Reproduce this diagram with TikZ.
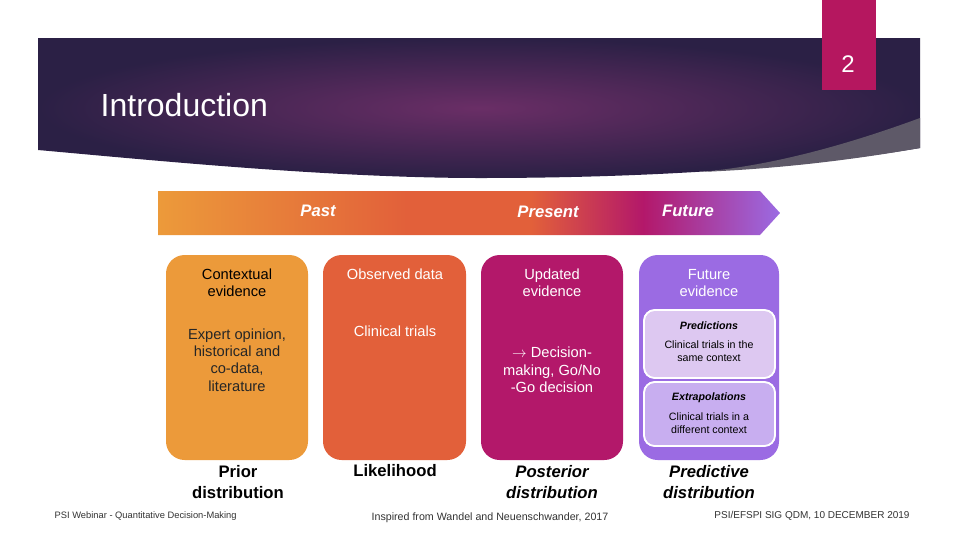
\documentclass[tikz,border=0pt]{standalone}
\usepackage{fontspec}
\setmainfont{Liberation Sans}
\usetikzlibrary{shapes.geometric}
\definecolor{cA}{HTML}{EC9A3A}
\definecolor{cB}{HTML}{E2603A}
\definecolor{cC}{HTML}{B3186A}
\definecolor{cD}{HTML}{9B6BE3}
\definecolor{pinkbox}{HTML}{B5175F}
\definecolor{darkp}{HTML}{2B2045}
\definecolor{midp}{HTML}{6A2E66}
\pgfdeclarehorizontalshading{timebar}{100bp}{color(0bp)=(cA);color(25bp)=(cA);color(45bp)=(cB);color(55bp)=(cB);color(64bp)=(cC);color(75bp)=(cD);color(100bp)=(cD)}
\begin{document}
\begin{tikzpicture}[x=0.75pt,y=-0.75pt,
  col/.style={rounded corners=14pt,draw=none},
  inner/.style={rounded corners=8pt,draw=white,line width=1.2pt},
  wt/.style={text=white,align=center,font=\fontsize{11}{13}\selectfont},
  bk/.style={text=black,align=center,font=\fontsize{11}{13}\selectfont},
  lab/.style={text=black,align=center,font=\fontsize{12.5}{15.5}\selectfont\bfseries\itshape},
  foot/.style={text=black!80,font=\fontsize{7}{8}\selectfont}]
\useasboundingbox (0,0) rectangle (960,540);
\fill[white] (0,0) rectangle (960,540);
% banner
\shade[inner color=midp,outer color=darkp] (38,38) -- (920,38) -- (920,148) .. controls (800,168) and (650,178) .. (480,178) .. controls (330,178) and (150,160) .. (38,150) -- cycle;
\fill[gray!60!darkp] (920,118) .. controls (860,140) and (780,165) .. (700,172) .. controls (800,168) and (880,155) .. (920,148) -- cycle;
\node[wt,anchor=west,font=\fontsize{24}{28}\selectfont] (title) at (96,105) {Introduction};
\fill[pinkbox] (822,0) rectangle (876,90);
\node[wt,font=\fontsize{18}{20}\selectfont] (pg) at (848,64) {2};
% time bar
\shade[shading=timebar] (158,191) -- (760,191) -- (780,213) -- (760,235) -- (158,235) -- cycle;
\node[wt,font=\fontsize{12.5}{15}\selectfont\bfseries\itshape] (past) at (318,211) {Past};
\node[wt,font=\fontsize{12.5}{15}\selectfont\bfseries\itshape] (pres) at (548,212) {Present};
\node[wt,font=\fontsize{12.5}{15}\selectfont\bfseries\itshape] (fut) at (688,211) {Future};
% columns
\fill[col,cA] (166,255) rectangle (308,460);
\fill[col,cB] (323,255) rectangle (466,460);
\fill[col,cC] (481,255) rectangle (623,460);
\fill[col,cD] (639,255) rectangle (779,460);
\node[bk] (c1h) at (237,283) {Contextual\\evidence};
\node[bk,text=black!85] (c1t) at (237,360) {Expert opinion,\\historical and\\co-data,\\literature};
\node[wt] (c2h) at (395,274) {Observed data};
\node[wt] (c2t) at (395,331) {Clinical trials};
\node[wt] (c3h) at (552,283) {Updated\\evidence};
\node[wt] (c3t) at (552,370) {$\rightarrow$ Decision-\\making, Go/No\\-Go decision};
\node[wt] (c4h) at (709,283) {Future\\evidence};
\fill[inner,fill=purple!8!cD!35] (644,310) rectangle (775,378);
\draw[inner] (644,310) rectangle (775,378);
\fill[inner,fill=cD!55] (644,382) rectangle (775,446);
\draw[inner] (644,382) rectangle (775,446);
\node[bk,font=\fontsize{8}{10}\selectfont\bfseries\itshape] (pr) at (709,326) {Predictions};
\node[bk,font=\fontsize{8}{10}\selectfont] (prt) at (709,351) {Clinical trials in the\\same context};
\node[bk,font=\fontsize{8}{10}\selectfont\bfseries\itshape] (ex) at (709,398) {Extrapolations};
\node[bk,font=\fontsize{8}{10}\selectfont] (ext) at (709,423) {Clinical trials in a\\different context};
% labels
\node[lab,font=\fontsize{12.5}{15.5}\selectfont\bfseries] (l1) at (238,482) {Prior\\distribution};
\node[lab,font=\fontsize{12.5}{15.5}\selectfont\bfseries] (l2) at (395,471) {Likelihood};
\node[lab] (l3) at (552,482) {Posterior\\distribution};
\node[lab] (l4) at (709,482) {Predictive\\distribution};
\node[foot,anchor=west] (f1) at (50,516) {PSI Webinar - Quantitative Decision-Making};
\node[foot,font=\fontsize{8}{9}\selectfont] (f2) at (490,518) {Inspired from Wandel and Neuenschwander, 2017};
\node[foot,font=\fontsize{7.5}{9}\selectfont] (f3) at (812,516) {PSI/EFSPI SIG QDM, 10 DECEMBER 2019};
\end{tikzpicture}
\end{document}
